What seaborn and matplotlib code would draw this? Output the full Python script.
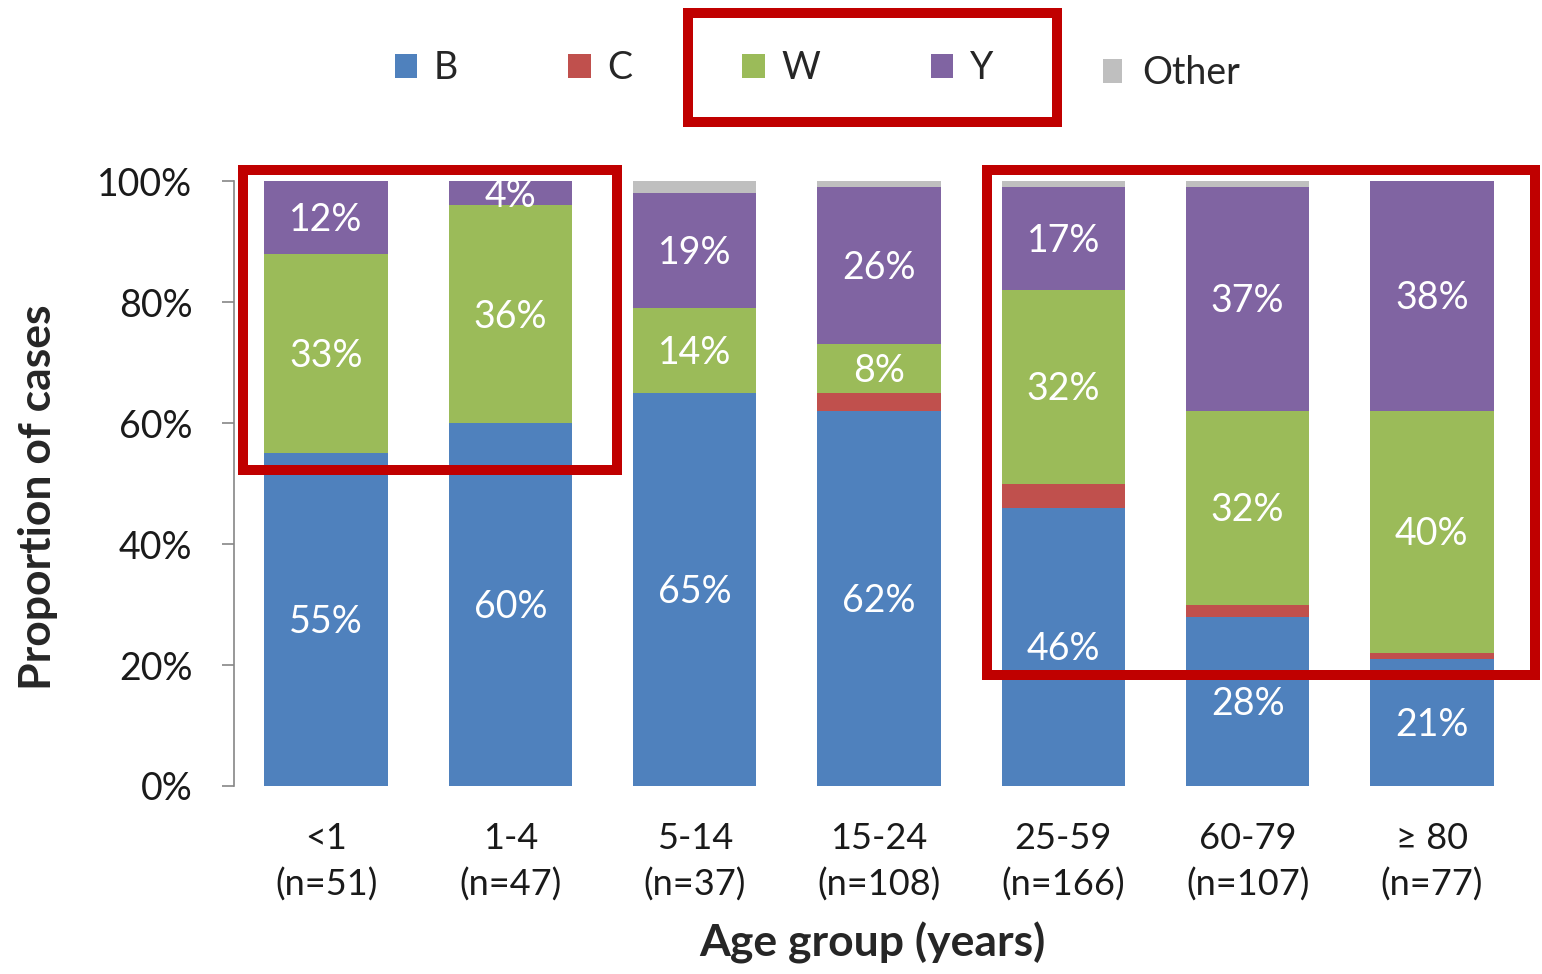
import matplotlib
matplotlib.use("Agg")
import matplotlib.pyplot as plt
from matplotlib.patches import Patch, Rectangle
import numpy as np
import pandas as pd
import seaborn as sns

# Age groups and case counts
age_groups = ["<1", "1-4", "5-14", "15-24", "25-59", "60-79", "\u2265 80"]
case_counts = [51, 47, 37, 108, 166, 107, 77]

# Serogroup share of cases per age group (%)
share_B = [55, 60, 65, 62, 46, 28, 21]
share_C = [0, 0, 0, 3, 4, 2, 1]
share_W = [33, 36, 14, 8, 32, 32, 40]
share_Y = [12, 4, 19, 26, 17, 37, 38]
share_other = [0, 0, 2, 1, 1, 1, 0]

series_names = ["B", "C", "W", "Y", "Other"]
series_colors = ["#4F81BD", "#C0504D", "#9BBB59", "#8064A2", "#BFBFBF"]
labelled = {"B", "W", "Y"}

x_labels = [f"{g}\n(n={n})" for g, n in zip(age_groups, case_counts)]

df = pd.DataFrame({
    "group": x_labels,
    "B": share_B, "C": share_C, "W": share_W, "Y": share_Y, "Other": share_other,
})

sns.set_theme(style="white")
plt.rcParams["font.family"] = ["Lato", "DejaVu Sans"]

W_PX, H_PX = 1542, 974
fig = plt.figure(figsize=(W_PX / 100, H_PX / 100), dpi=100)
ax = fig.add_axes([234 / W_PX, 1 - 786 / H_PX, (1524 - 234) / W_PX, (786 - 181) / H_PX])

# Stacked bars: draw cumulative totals from the top series down
cum = df[series_names].cumsum(axis=1)
for name, color in reversed(list(zip(series_names, series_colors))):
    sns.barplot(x=df["group"], y=cum[name], color=color, width=0.67,
                saturation=1, ax=ax, linewidth=0, order=x_labels)

# Value labels centred in each labelled segment
for name in series_names:
    if name not in labelled:
        continue
    tops = cum[name].values
    vals = df[name].values
    for i, (t, v) in enumerate(zip(tops, vals)):
        if v > 0:
            ax.text(i, t - v / 2 - 0.4, f"{v}%", ha="center", va="center",
                    color="white", fontsize=27)

ax.set_ylim(0, 100)
ax.set_xlim(-0.5, len(x_labels) - 0.5)
ax.set_yticks(np.arange(0, 101, 20))
ax.set_yticklabels([f"{v}%" for v in range(0, 101, 20)])
ax.tick_params(axis="y", which="major", left=True, length=9, width=1.2,
               color="#868686", pad=21, labelsize=27, labelcolor="#1a1a1a")
ax.tick_params(axis="x", bottom=False, pad=20, labelsize=26, labelcolor="#1a1a1a")
for lbl in ax.get_xticklabels():
    lbl.set_linespacing(1.45)

for side in ["top", "right", "bottom"]:
    ax.spines[side].set_visible(False)
ax.spines["left"].set_color("#868686")
ax.spines["left"].set_linewidth(1.2)

ax.set_xlabel("Age group (years)", fontsize=32, fontweight="bold")
ax.set_ylabel("Proportion of cases", fontsize=32, fontweight="bold")
ax.xaxis.set_label_coords((872 - 234) / 1290, -(922 - 786) / 605)
ax.yaxis.set_label_coords(-(234 - 58) / 1290, (786 - 497) / 605)

# Legend: serogroups, then "Other" set slightly apart
handles = [Patch(facecolor=c, edgecolor="none") for c in series_colors]
fig.legend(handles[:4], series_names[:4], loc="center", ncol=4,
           bbox_to_anchor=(694 / W_PX, 1 - 68 / H_PX), frameon=False,
           fontsize=27, handlelength=0.6, handleheight=0.6,
           handletextpad=0.45, columnspacing=2.93)
fig.legend(handles[4:], series_names[4:], loc="center",
           bbox_to_anchor=(1172 / W_PX, 1 - 73 / H_PX), frameon=False,
           fontsize=27, handlelength=0.5, handleheight=0.6,
           handletextpad=0.55)

# Highlight frames
def frame(x0, y0, x1, y1):
    fig.patches.append(Rectangle(
        (x0 / W_PX, 1 - y1 / H_PX), (x1 - x0) / W_PX, (y1 - y0) / H_PX,
        transform=fig.transFigure, fill=False, edgecolor="#C00000",
        linewidth=7.2, zorder=10))

frame(688, 13, 1057, 122)
frame(243, 170, 617, 470)
frame(987, 170, 1535, 675)

fig.savefig("out.png", dpi=100)
